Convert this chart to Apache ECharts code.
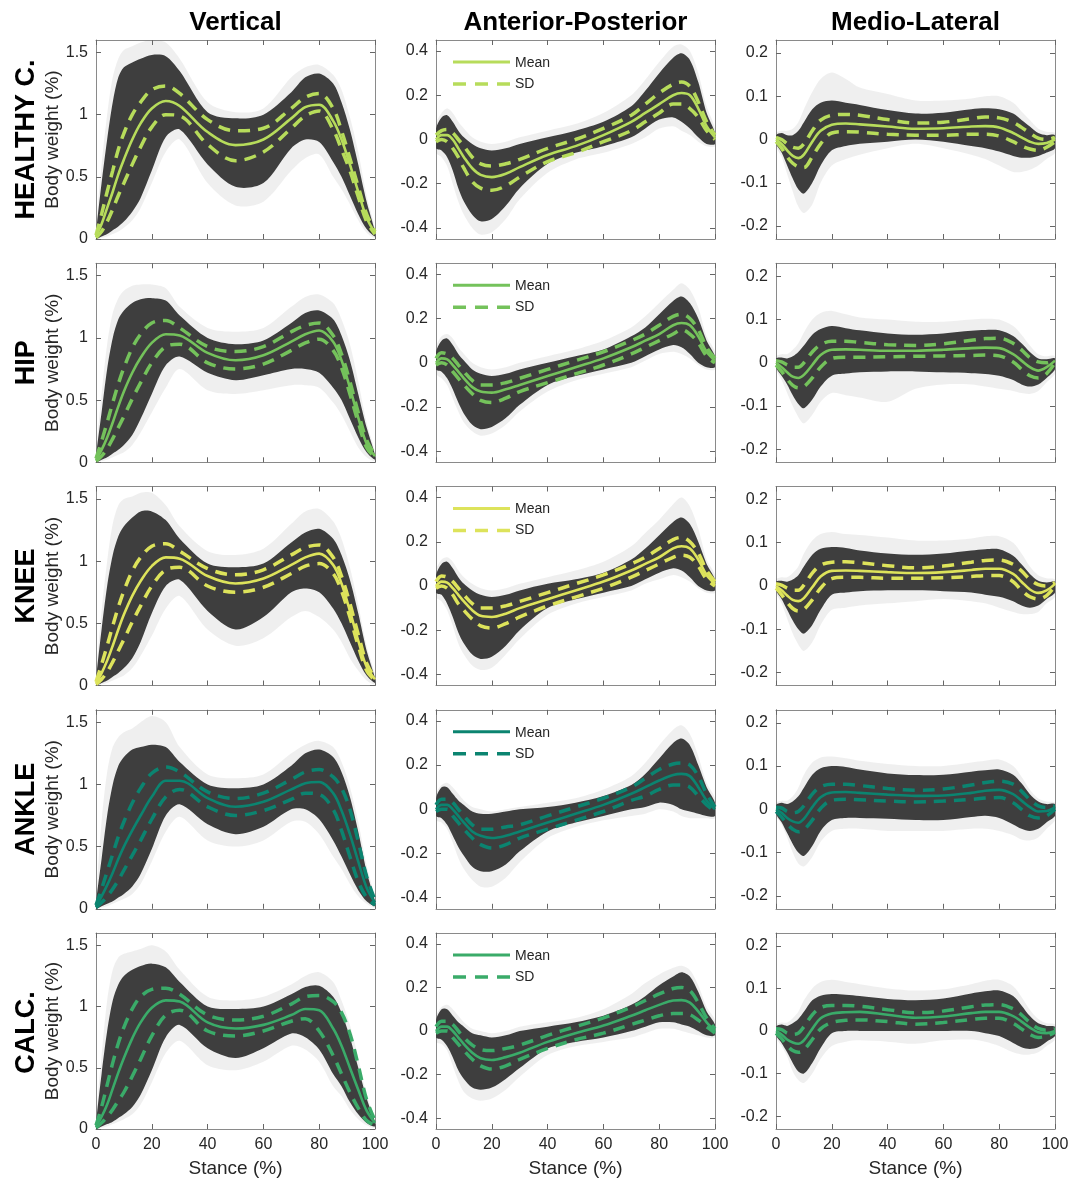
<!DOCTYPE html>
<html><head><meta charset="utf-8">
<script src="https://cdn.jsdelivr.net/npm/echarts@6/dist/echarts.min.js"></script>
<style>html,body{margin:0;padding:0;background:#fff}#c{width:1072px;height:1179px}</style>
</head><body><div id="c"></div>
<script>
// ---------- DATA ----------
const STANCE = [0,2,4,6,8,10,13,16,20,25,30,40,50,60,70,75,80,85,88,91,94,97,100];
const ROW_LABELS = ['HEALTHY C.','HIP','KNEE','ANKLE','CALC.'];
const COL_TITLES = ['Vertical','Anterior-Posterior','Medio-Lateral'];
const ROW_COLORS = ['#b7dc5b','#74c25b','#dde35b','#0b8470','#3aab69'];
const V_TICKS = [0,0.5,1,1.5];
const AP_TICKS = [-0.4,-0.2,0,0.2,0.4];
const ML_TICKS = [-0.2,-0.1,0,0.1,0.2];
const X_TICKS = [0,20,40,60,80,100];

// Vertical — Healthy controls
const V_HC_MEAN  = [0.02,0.12,0.25,0.38,0.52,0.64,0.80,0.93,1.05,1.11,1.07,0.86,0.755,0.80,0.97,1.06,1.08,0.95,0.80,0.60,0.38,0.17,0.05];
const V_HC_SDHI  = [0.03,0.20,0.38,0.55,0.72,0.85,1.00,1.10,1.20,1.23,1.17,0.96,0.87,0.89,1.05,1.14,1.17,1.05,0.87,0.65,0.42,0.20,0.06];
const V_HC_SDLO  = [0.01,0.06,0.14,0.24,0.35,0.45,0.60,0.74,0.90,1.00,0.99,0.76,0.63,0.70,0.89,0.99,1.03,0.88,0.72,0.55,0.34,0.14,0.04];
const V_HC_BHI   = [0.05,0.45,0.80,1.10,1.30,1.38,1.42,1.45,1.48,1.47,1.35,1.02,0.97,1.00,1.18,1.30,1.33,1.25,1.10,0.88,0.60,0.30,0.06];
const V_HC_BLO   = [0.00,0.02,0.04,0.07,0.10,0.14,0.22,0.33,0.55,0.82,0.88,0.60,0.42,0.45,0.73,0.80,0.78,0.62,0.50,0.35,0.20,0.08,0.02];
const V_HC_HHI   = [0.08,0.60,1.00,1.30,1.45,1.52,1.55,1.58,1.60,1.58,1.45,1.10,1.02,1.05,1.30,1.38,1.40,1.32,1.20,0.98,0.70,0.35,0.08];
const V_HC_HLO   = [0.00,0.01,0.02,0.04,0.06,0.09,0.15,0.25,0.45,0.70,0.80,0.45,0.27,0.30,0.55,0.65,0.68,0.50,0.40,0.28,0.15,0.05,0.01];
// Vertical — Hip
const V_HIP_MEAN = [0.02,0.10,0.20,0.32,0.45,0.57,0.72,0.84,0.96,1.03,1.02,0.88,0.82,0.86,0.97,1.03,1.06,0.97,0.82,0.60,0.36,0.15,0.05];
const V_HIP_SDHI = [0.03,0.17,0.32,0.48,0.63,0.76,0.92,1.03,1.12,1.14,1.08,0.93,0.89,0.93,1.05,1.10,1.12,1.02,0.87,0.65,0.40,0.18,0.06];
const V_HIP_SDLO = [0.01,0.05,0.11,0.19,0.28,0.37,0.51,0.64,0.80,0.93,0.95,0.80,0.75,0.79,0.90,0.96,0.99,0.90,0.76,0.55,0.32,0.12,0.04];
const V_HIP_BHI  = [0.05,0.40,0.75,1.00,1.15,1.22,1.28,1.31,1.32,1.30,1.18,1.00,0.95,0.98,1.12,1.20,1.22,1.15,1.02,0.82,0.55,0.28,0.06];
const V_HIP_BLO  = [0.00,0.02,0.04,0.07,0.10,0.14,0.22,0.35,0.55,0.78,0.85,0.72,0.66,0.70,0.75,0.75,0.72,0.60,0.50,0.35,0.20,0.08,0.02];
const V_HIP_HHI  = [0.08,0.55,0.95,1.20,1.32,1.38,1.42,1.43,1.43,1.40,1.25,1.08,1.05,1.08,1.25,1.33,1.35,1.28,1.15,0.95,0.65,0.32,0.08];
const V_HIP_HLO  = [0.00,0.01,0.02,0.04,0.06,0.08,0.14,0.24,0.40,0.60,0.75,0.58,0.55,0.58,0.62,0.62,0.60,0.48,0.38,0.25,0.12,0.04,0.01];
// Vertical — Knee
const V_KNE_MEAN = [0.02,0.10,0.20,0.32,0.45,0.57,0.72,0.84,0.96,1.03,1.02,0.88,0.82,0.86,0.97,1.03,1.06,0.97,0.82,0.60,0.36,0.15,0.05];
const V_KNE_SDHI = [0.03,0.17,0.32,0.48,0.63,0.76,0.92,1.03,1.12,1.14,1.08,0.94,0.89,0.93,1.05,1.11,1.13,1.03,0.88,0.66,0.41,0.18,0.06];
const V_KNE_SDLO = [0.01,0.05,0.11,0.19,0.28,0.37,0.51,0.64,0.80,0.93,0.95,0.80,0.75,0.79,0.90,0.96,0.98,0.90,0.76,0.55,0.32,0.12,0.04];
const V_KNE_BHI  = [0.05,0.45,0.80,1.05,1.20,1.28,1.35,1.40,1.40,1.33,1.18,0.98,0.95,0.98,1.15,1.23,1.26,1.18,1.05,0.85,0.58,0.28,0.06];
const V_KNE_BLO  = [0.00,0.02,0.04,0.07,0.10,0.14,0.22,0.35,0.58,0.80,0.85,0.60,0.45,0.55,0.75,0.78,0.75,0.62,0.50,0.35,0.20,0.08,0.02];
const V_KNE_HHI  = [0.08,0.60,1.00,1.30,1.45,1.50,1.52,1.55,1.55,1.45,1.28,1.08,1.05,1.10,1.30,1.40,1.42,1.32,1.18,0.95,0.65,0.32,0.08];
const V_KNE_HLO  = [0.00,0.01,0.02,0.04,0.06,0.08,0.14,0.24,0.40,0.62,0.72,0.45,0.32,0.38,0.55,0.60,0.55,0.45,0.35,0.22,0.12,0.04,0.01];
// Vertical — Ankle
const V_ANK_MEAN = [0.02,0.10,0.19,0.29,0.40,0.50,0.63,0.75,0.90,1.03,1.03,0.89,0.82,0.86,0.96,1.01,1.02,0.93,0.79,0.60,0.38,0.17,0.05];
const V_ANK_SDHI = [0.03,0.16,0.30,0.44,0.58,0.70,0.85,0.97,1.09,1.14,1.10,0.94,0.886,0.93,1.04,1.10,1.12,1.06,0.97,0.80,0.54,0.26,0.07];
const V_ANK_SDLO = [0.01,0.05,0.10,0.16,0.23,0.31,0.43,0.55,0.72,0.90,0.96,0.82,0.75,0.79,0.88,0.93,0.92,0.80,0.63,0.42,0.22,0.09,0.03];
const V_ANK_BHI  = [0.05,0.40,0.75,1.00,1.15,1.22,1.28,1.30,1.32,1.30,1.18,1.00,0.97,1.00,1.15,1.25,1.28,1.22,1.10,0.90,0.62,0.30,0.06];
const V_ANK_BLO  = [0.00,0.02,0.04,0.06,0.09,0.12,0.18,0.28,0.48,0.75,0.84,0.68,0.60,0.66,0.80,0.80,0.72,0.55,0.42,0.28,0.15,0.06,0.02];
const V_ANK_HHI  = [0.08,0.70,1.10,1.30,1.38,1.42,1.45,1.50,1.55,1.50,1.30,1.08,1.05,1.08,1.25,1.32,1.35,1.30,1.18,0.98,0.70,0.35,0.08];
const V_ANK_HLO  = [0.00,0.01,0.02,0.04,0.06,0.08,0.12,0.20,0.38,0.62,0.74,0.55,0.50,0.55,0.70,0.70,0.60,0.42,0.32,0.20,0.10,0.04,0.01];
// Vertical — Calcaneus
const V_CAL_MEAN = [0.02,0.10,0.20,0.33,0.46,0.58,0.74,0.87,0.99,1.05,1.04,0.87,0.82,0.85,0.93,0.98,0.97,0.82,0.68,0.50,0.32,0.15,0.05];
const V_CAL_SDHI = [0.03,0.18,0.36,0.54,0.70,0.83,0.98,1.08,1.14,1.15,1.10,0.93,0.89,0.92,1.02,1.08,1.09,1.04,0.95,0.78,0.52,0.24,0.07];
const V_CAL_SDLO = [0.01,0.05,0.10,0.16,0.23,0.30,0.43,0.57,0.76,0.93,0.97,0.80,0.76,0.80,0.88,0.90,0.80,0.60,0.45,0.30,0.17,0.07,0.03];
const V_CAL_BHI  = [0.05,0.45,0.80,1.05,1.18,1.25,1.30,1.33,1.35,1.32,1.20,1.00,0.98,1.00,1.10,1.16,1.17,1.08,0.95,0.75,0.50,0.25,0.06];
const V_CAL_BLO  = [0.00,0.02,0.04,0.06,0.09,0.12,0.18,0.28,0.48,0.75,0.85,0.66,0.58,0.66,0.78,0.75,0.65,0.45,0.35,0.22,0.12,0.05,0.02];
const V_CAL_HHI  = [0.08,0.60,1.05,1.30,1.40,1.43,1.45,1.47,1.50,1.45,1.30,1.08,1.05,1.08,1.18,1.25,1.28,1.20,1.05,0.85,0.58,0.28,0.08];
const V_CAL_HLO  = [0.00,0.01,0.02,0.04,0.06,0.08,0.12,0.20,0.38,0.62,0.72,0.52,0.48,0.55,0.68,0.65,0.55,0.35,0.27,0.16,0.08,0.03,0.01];

// Anterior-Posterior — Healthy controls
const AP_HC_MEAN  = [0,0.02,0.02,0,-0.04,-0.08,-0.13,-0.16,-0.17,-0.155,-0.125,-0.07,-0.03,0.02,0.08,0.12,0.16,0.20,0.21,0.20,0.14,0.06,0.01];
const AP_HC_SDHI  = [0.02,0.04,0.045,0.03,0,-0.03,-0.08,-0.11,-0.12,-0.11,-0.09,-0.04,0,0.05,0.11,0.16,0.21,0.25,0.26,0.24,0.17,0.08,0.02];
const AP_HC_SDLO  = [-0.01,0,-0.01,-0.04,-0.08,-0.13,-0.19,-0.22,-0.23,-0.21,-0.17,-0.10,-0.06,-0.01,0.04,0.08,0.12,0.16,0.16,0.14,0.10,0.04,0];
const AP_HC_BHI   = [0.05,0.10,0.11,0.08,0.04,0.01,-0.02,-0.04,-0.05,-0.04,-0.02,0.01,0.04,0.08,0.15,0.22,0.30,0.37,0.39,0.36,0.26,0.12,0.03];
const AP_HC_BLO   = [-0.04,-0.05,-0.08,-0.14,-0.22,-0.28,-0.34,-0.37,-0.36,-0.30,-0.22,-0.11,-0.06,-0.03,0.01,0.05,0.09,0.10,0.08,0.05,0.01,-0.02,-0.02];
const AP_HC_HHI   = [0.07,0.12,0.14,0.12,0.08,0.05,0.01,-0.01,-0.02,-0.01,0.01,0.04,0.07,0.12,0.20,0.27,0.35,0.42,0.43,0.40,0.30,0.15,0.05];
const AP_HC_HLO   = [-0.06,-0.08,-0.12,-0.20,-0.28,-0.34,-0.40,-0.43,-0.42,-0.36,-0.27,-0.15,-0.09,-0.06,-0.02,0.01,0.05,0.06,0.04,0.02,-0.01,-0.03,-0.03];
// AP — Hip
const AP_HIP_MEAN = [0,0.02,0.015,-0.01,-0.04,-0.07,-0.11,-0.13,-0.135,-0.12,-0.10,-0.06,-0.02,0.02,0.07,0.10,0.13,0.17,0.18,0.17,0.12,0.05,0.01];
const AP_HIP_SDHI = [0.02,0.045,0.04,0.02,-0.01,-0.04,-0.08,-0.10,-0.10,-0.09,-0.07,-0.03,0.01,0.05,0.10,0.13,0.17,0.21,0.22,0.20,0.15,0.07,0.02];
const AP_HIP_SDLO = [-0.01,0,-0.01,-0.04,-0.07,-0.10,-0.14,-0.17,-0.18,-0.16,-0.13,-0.09,-0.05,-0.01,0.04,0.07,0.10,0.13,0.15,0.13,0.09,0.03,0];
const AP_HIP_BHI  = [0.05,0.10,0.11,0.08,0.04,0.01,-0.03,-0.05,-0.06,-0.05,-0.03,0,0.03,0.06,0.12,0.16,0.22,0.28,0.30,0.27,0.20,0.10,0.03];
const AP_HIP_BLO  = [-0.03,-0.04,-0.07,-0.12,-0.18,-0.23,-0.28,-0.30,-0.29,-0.25,-0.19,-0.10,-0.06,-0.03,0,0.03,0.06,0.08,0.07,0.04,0,-0.02,-0.02];
const AP_HIP_HHI  = [0.07,0.12,0.13,0.11,0.07,0.04,0,-0.02,-0.03,-0.02,0,0.03,0.06,0.10,0.16,0.21,0.27,0.33,0.36,0.33,0.25,0.12,0.05];
const AP_HIP_HLO  = [-0.05,-0.07,-0.10,-0.16,-0.22,-0.27,-0.31,-0.33,-0.32,-0.28,-0.22,-0.13,-0.08,-0.05,-0.02,0.01,0.04,0.05,0.04,0.02,-0.01,-0.03,-0.03];
// AP — Knee
const AP_KNE_MEAN = [0,0.02,0.015,-0.01,-0.04,-0.07,-0.11,-0.135,-0.14,-0.125,-0.10,-0.06,-0.02,0.02,0.07,0.10,0.13,0.17,0.18,0.17,0.12,0.05,0.01];
const AP_KNE_SDHI = [0.02,0.045,0.04,0.02,-0.01,-0.04,-0.08,-0.10,-0.10,-0.09,-0.07,-0.03,0.01,0.05,0.10,0.13,0.17,0.21,0.22,0.20,0.15,0.07,0.02];
const AP_KNE_SDLO = [-0.01,0,-0.01,-0.04,-0.08,-0.11,-0.15,-0.18,-0.19,-0.17,-0.14,-0.09,-0.05,-0.01,0.04,0.07,0.10,0.13,0.14,0.13,0.09,0.03,0];
const AP_KNE_BHI  = [0.05,0.10,0.11,0.08,0.04,0.01,-0.02,-0.04,-0.05,-0.04,-0.02,0.01,0.03,0.06,0.12,0.17,0.23,0.29,0.31,0.28,0.20,0.10,0.03];
const AP_KNE_BLO  = [-0.03,-0.04,-0.08,-0.14,-0.21,-0.26,-0.31,-0.33,-0.32,-0.27,-0.20,-0.10,-0.06,-0.03,0,0.03,0.06,0.08,0.07,0.04,0,-0.02,-0.02];
const AP_KNE_HHI  = [0.07,0.12,0.13,0.11,0.07,0.04,0.01,-0.01,-0.02,-0.01,0.01,0.04,0.07,0.11,0.18,0.24,0.30,0.37,0.40,0.36,0.26,0.12,0.05];
const AP_KNE_HLO  = [-0.05,-0.07,-0.11,-0.18,-0.26,-0.31,-0.36,-0.38,-0.37,-0.31,-0.24,-0.13,-0.08,-0.05,-0.02,0.01,0.03,0.05,0.04,0.02,-0.01,-0.03,-0.03];
// AP — Ankle
const AP_ANK_MEAN = [0,0.02,0.02,0,-0.03,-0.06,-0.10,-0.12,-0.13,-0.12,-0.10,-0.06,-0.02,0.02,0.07,0.10,0.13,0.155,0.16,0.15,0.10,0.04,0];
const AP_ANK_SDHI = [0.02,0.045,0.045,0.03,0,-0.03,-0.07,-0.09,-0.09,-0.08,-0.07,-0.03,0.01,0.05,0.10,0.14,0.18,0.205,0.21,0.20,0.15,0.07,0.01];
const AP_ANK_SDLO = [-0.01,0,0,-0.03,-0.06,-0.09,-0.13,-0.16,-0.175,-0.16,-0.13,-0.09,-0.05,-0.01,0.04,0.06,0.09,0.11,0.11,0.10,0.06,0.02,-0.01];
const AP_ANK_BHI  = [0.05,0.10,0.10,0.07,0.04,0.02,-0.01,-0.02,-0.02,-0.01,0,0.01,0.03,0.06,0.11,0.16,0.23,0.30,0.32,0.29,0.20,0.10,0.03];
const AP_ANK_BLO  = [-0.03,-0.04,-0.07,-0.12,-0.17,-0.21,-0.26,-0.28,-0.28,-0.25,-0.19,-0.10,-0.06,-0.03,0,0.01,0.03,0.02,0,-0.01,-0.02,-0.03,-0.03];
const AP_ANK_HHI  = [0.07,0.11,0.12,0.10,0.07,0.04,0.01,0,-0.01,0,0.01,0.03,0.05,0.09,0.15,0.21,0.29,0.36,0.38,0.34,0.24,0.12,0.05];
const AP_ANK_HLO  = [-0.05,-0.06,-0.09,-0.15,-0.22,-0.27,-0.32,-0.35,-0.35,-0.31,-0.24,-0.13,-0.08,-0.05,-0.03,-0.02,0,-0.01,-0.03,-0.04,-0.04,-0.04,-0.04];
// AP — Calcaneus
const AP_CAL_MEAN = [0,0.02,0.02,0,-0.03,-0.06,-0.10,-0.125,-0.133,-0.12,-0.10,-0.05,-0.01,0.025,0.07,0.095,0.12,0.14,0.142,0.13,0.09,0.04,0];
const AP_CAL_SDHI = [0.02,0.045,0.045,0.03,0,-0.03,-0.065,-0.085,-0.09,-0.08,-0.065,-0.02,0.02,0.06,0.11,0.14,0.17,0.195,0.20,0.185,0.13,0.06,0.01];
const AP_CAL_SDLO = [-0.01,0,0,-0.03,-0.06,-0.09,-0.13,-0.16,-0.175,-0.16,-0.13,-0.08,-0.04,-0.01,0.03,0.05,0.07,0.08,0.08,0.075,0.05,0.02,-0.01];
const AP_CAL_BHI  = [0.05,0.10,0.10,0.07,0.04,0.02,-0.01,-0.02,-0.03,-0.02,0,0.02,0.04,0.07,0.12,0.16,0.21,0.25,0.27,0.25,0.18,0.09,0.03];
const AP_CAL_BLO  = [-0.03,-0.04,-0.07,-0.12,-0.18,-0.22,-0.26,-0.27,-0.26,-0.22,-0.17,-0.08,-0.05,-0.03,0,0.02,0.04,0.04,0.03,0.02,0,-0.02,-0.02];
const AP_CAL_HHI  = [0.07,0.11,0.12,0.10,0.07,0.04,0.01,0,-0.01,0,0.02,0.04,0.06,0.10,0.17,0.22,0.26,0.29,0.30,0.28,0.21,0.11,0.05];
const AP_CAL_HLO  = [-0.05,-0.06,-0.09,-0.16,-0.23,-0.28,-0.31,-0.32,-0.31,-0.27,-0.21,-0.11,-0.07,-0.05,-0.03,-0.01,0.01,0.01,0,-0.01,-0.02,-0.03,-0.03];

// Medio-Lateral — Healthy controls
const ML_HC_MEAN  = [0,-0.01,-0.025,-0.038,-0.043,-0.035,-0.005,0.02,0.034,0.037,0.035,0.03,0.025,0.026,0.03,0.031,0.028,0.015,0.005,-0.005,-0.01,-0.008,0];
const ML_HC_SDHI  = [0.005,0,-0.01,-0.018,-0.02,-0.01,0.02,0.045,0.056,0.058,0.056,0.046,0.038,0.04,0.048,0.052,0.05,0.04,0.028,0.015,0.003,0,0.005];
const ML_HC_SDLO  = [-0.005,-0.02,-0.04,-0.055,-0.063,-0.065,-0.04,-0.01,0.015,0.018,0.017,0.012,0.01,0.01,0.012,0.012,0.008,-0.005,-0.015,-0.022,-0.025,-0.018,-0.005];
const ML_HC_BHI   = [0.01,0.015,0.01,0.01,0.02,0.04,0.07,0.085,0.09,0.085,0.08,0.068,0.06,0.062,0.07,0.072,0.07,0.06,0.045,0.03,0.015,0.01,0.01];
const ML_HC_BLO   = [-0.01,-0.03,-0.06,-0.09,-0.115,-0.125,-0.10,-0.06,-0.025,-0.015,-0.01,-0.005,0,-0.005,-0.015,-0.02,-0.028,-0.038,-0.042,-0.042,-0.038,-0.03,-0.02];
const ML_HC_HHI   = [0.015,0.02,0.02,0.025,0.04,0.07,0.11,0.14,0.155,0.14,0.12,0.105,0.09,0.09,0.095,0.10,0.10,0.085,0.065,0.045,0.025,0.018,0.015];
const ML_HC_HLO   = [-0.015,-0.04,-0.08,-0.12,-0.155,-0.17,-0.15,-0.10,-0.06,-0.045,-0.035,-0.02,-0.01,-0.02,-0.035,-0.045,-0.06,-0.075,-0.075,-0.07,-0.06,-0.045,-0.03];
// ML — Hip
const ML_HIP_MEAN = [0,-0.01,-0.022,-0.032,-0.035,-0.028,-0.005,0.018,0.03,0.031,0.03,0.028,0.028,0.03,0.034,0.035,0.034,0.02,0.005,-0.01,-0.018,-0.01,0.005];
const ML_HIP_SDHI = [0.005,0.002,-0.005,-0.01,-0.01,0,0.025,0.042,0.05,0.05,0.047,0.042,0.04,0.044,0.052,0.056,0.057,0.045,0.03,0.012,0.002,0,0.008];
const ML_HIP_SDLO = [-0.005,-0.02,-0.038,-0.052,-0.058,-0.055,-0.035,-0.01,0.01,0.013,0.013,0.014,0.015,0.016,0.017,0.018,0.016,0.002,-0.015,-0.03,-0.035,-0.025,0];
const ML_HIP_BHI  = [0.01,0.012,0.01,0.015,0.025,0.04,0.065,0.078,0.085,0.08,0.075,0.068,0.065,0.068,0.074,0.076,0.075,0.062,0.045,0.025,0.01,0.008,0.01];
const ML_HIP_BLO  = [-0.01,-0.03,-0.05,-0.075,-0.095,-0.105,-0.085,-0.055,-0.03,-0.025,-0.022,-0.02,-0.02,-0.022,-0.024,-0.026,-0.03,-0.04,-0.05,-0.055,-0.05,-0.035,-0.015];
const ML_HIP_HHI  = [0.015,0.02,0.02,0.03,0.045,0.07,0.10,0.115,0.12,0.112,0.105,0.10,0.095,0.095,0.10,0.102,0.10,0.085,0.065,0.04,0.02,0.015,0.015];
const ML_HIP_HLO  = [-0.015,-0.04,-0.07,-0.10,-0.125,-0.14,-0.12,-0.09,-0.07,-0.075,-0.08,-0.09,-0.06,-0.05,-0.05,-0.055,-0.06,-0.065,-0.07,-0.072,-0.065,-0.045,-0.025];
// ML — Knee
const ML_KNE_MEAN = [0,-0.01,-0.022,-0.032,-0.035,-0.028,-0.003,0.022,0.035,0.036,0.035,0.032,0.03,0.032,0.037,0.04,0.04,0.028,0.01,-0.008,-0.016,-0.01,0.005];
const ML_KNE_SDHI = [0.005,0.002,-0.005,-0.01,-0.01,0.002,0.03,0.048,0.055,0.056,0.054,0.047,0.042,0.046,0.055,0.059,0.06,0.05,0.035,0.015,0.003,0,0.008];
const ML_KNE_SDLO = [-0.005,-0.02,-0.038,-0.052,-0.058,-0.054,-0.032,-0.005,0.017,0.02,0.02,0.018,0.018,0.019,0.022,0.024,0.024,0.01,-0.01,-0.025,-0.03,-0.022,0];
const ML_KNE_BHI  = [0.01,0.012,0.01,0.015,0.025,0.045,0.072,0.086,0.09,0.088,0.082,0.075,0.072,0.075,0.082,0.085,0.085,0.07,0.05,0.028,0.012,0.008,0.01];
const ML_KNE_BLO  = [-0.01,-0.03,-0.055,-0.08,-0.10,-0.11,-0.09,-0.055,-0.02,-0.015,-0.012,-0.01,-0.01,-0.012,-0.015,-0.02,-0.025,-0.035,-0.045,-0.05,-0.045,-0.03,-0.015];
const ML_KNE_HHI  = [0.015,0.02,0.02,0.03,0.045,0.075,0.105,0.12,0.125,0.12,0.118,0.112,0.105,0.105,0.11,0.115,0.115,0.10,0.075,0.045,0.025,0.018,0.015];
const ML_KNE_HLO  = [-0.015,-0.04,-0.075,-0.11,-0.135,-0.15,-0.13,-0.09,-0.055,-0.05,-0.045,-0.04,-0.035,-0.03,-0.035,-0.04,-0.05,-0.06,-0.065,-0.065,-0.06,-0.04,-0.025];
// ML — Ankle
const ML_ANK_MEAN = [0,-0.008,-0.02,-0.028,-0.031,-0.022,0.005,0.028,0.039,0.04,0.038,0.034,0.031,0.032,0.038,0.043,0.045,0.035,0.02,0.005,-0.005,-0.004,0.005];
const ML_ANK_SDHI = [0.005,0.003,-0.005,-0.008,-0.005,0.008,0.035,0.052,0.058,0.058,0.055,0.048,0.044,0.047,0.056,0.062,0.065,0.058,0.042,0.022,0.008,0.004,0.008];
const ML_ANK_SDLO = [-0.005,-0.018,-0.034,-0.046,-0.052,-0.047,-0.025,0.002,0.021,0.023,0.022,0.019,0.017,0.019,0.023,0.026,0.027,0.015,0,-0.015,-0.02,-0.015,0];
const ML_ANK_BHI  = [0.01,0.015,0.012,0.018,0.03,0.05,0.08,0.095,0.10,0.098,0.092,0.083,0.079,0.08,0.087,0.09,0.092,0.08,0.06,0.035,0.018,0.012,0.012];
const ML_ANK_BLO  = [-0.01,-0.03,-0.055,-0.08,-0.10,-0.108,-0.085,-0.05,-0.025,-0.02,-0.02,-0.022,-0.025,-0.025,-0.018,-0.015,-0.02,-0.035,-0.045,-0.05,-0.045,-0.03,-0.015];
const ML_ANK_HHI  = [0.015,0.02,0.02,0.03,0.05,0.08,0.108,0.12,0.122,0.118,0.112,0.105,0.10,0.10,0.108,0.112,0.115,0.10,0.075,0.045,0.025,0.018,0.015];
const ML_ANK_HLO  = [-0.015,-0.035,-0.065,-0.10,-0.125,-0.132,-0.11,-0.075,-0.05,-0.045,-0.045,-0.05,-0.05,-0.05,-0.045,-0.045,-0.05,-0.06,-0.07,-0.072,-0.065,-0.045,-0.025];
// ML — Calcaneus
const ML_CAL_MEAN = [0,-0.008,-0.02,-0.027,-0.03,-0.022,0.005,0.03,0.041,0.044,0.045,0.038,0.031,0.034,0.042,0.045,0.045,0.035,0.022,0.008,-0.003,-0.005,0];
const ML_CAL_SDHI = [0.005,0.003,-0.005,-0.008,-0.005,0.01,0.038,0.055,0.06,0.06,0.058,0.05,0.043,0.047,0.057,0.061,0.062,0.052,0.038,0.02,0.006,0.002,0.005];
const ML_CAL_SDLO = [-0.005,-0.018,-0.034,-0.046,-0.05,-0.044,-0.02,0.005,0.02,0.025,0.026,0.022,0.016,0.02,0.027,0.03,0.03,0.018,0.005,-0.008,-0.015,-0.012,-0.003];
const ML_CAL_BHI  = [0.01,0.015,0.012,0.018,0.028,0.045,0.072,0.083,0.087,0.085,0.082,0.075,0.072,0.076,0.088,0.093,0.095,0.082,0.06,0.035,0.018,0.012,0.01];
const ML_CAL_BLO  = [-0.01,-0.028,-0.05,-0.075,-0.095,-0.10,-0.075,-0.04,-0.005,0,0,0,0,0,0,-0.005,-0.012,-0.028,-0.038,-0.042,-0.038,-0.025,-0.012];
const ML_CAL_HHI  = [0.015,0.02,0.02,0.03,0.045,0.072,0.10,0.115,0.12,0.115,0.11,0.10,0.095,0.098,0.11,0.118,0.12,0.105,0.08,0.05,0.028,0.018,0.015];
const ML_CAL_HLO  = [-0.015,-0.035,-0.06,-0.095,-0.115,-0.122,-0.10,-0.065,-0.035,-0.025,-0.022,-0.025,-0.03,-0.022,-0.02,-0.025,-0.035,-0.05,-0.055,-0.055,-0.05,-0.035,-0.02];

// ---------- PANEL TABLE (built from the arrays) ----------
const P = (mean,sdHi,sdLo,bHi,bLo,hHi,hLo)=>({mean,sdHi,sdLo,bHi,bLo,hHi,hLo});
const PANELS = [
  [P(V_HC_MEAN,V_HC_SDHI,V_HC_SDLO,V_HC_BHI,V_HC_BLO,V_HC_HHI,V_HC_HLO),
   P(AP_HC_MEAN,AP_HC_SDHI,AP_HC_SDLO,AP_HC_BHI,AP_HC_BLO,AP_HC_HHI,AP_HC_HLO),
   P(ML_HC_MEAN,ML_HC_SDHI,ML_HC_SDLO,ML_HC_BHI,ML_HC_BLO,ML_HC_HHI,ML_HC_HLO)],
  [P(V_HIP_MEAN,V_HIP_SDHI,V_HIP_SDLO,V_HIP_BHI,V_HIP_BLO,V_HIP_HHI,V_HIP_HLO),
   P(AP_HIP_MEAN,AP_HIP_SDHI,AP_HIP_SDLO,AP_HIP_BHI,AP_HIP_BLO,AP_HIP_HHI,AP_HIP_HLO),
   P(ML_HIP_MEAN,ML_HIP_SDHI,ML_HIP_SDLO,ML_HIP_BHI,ML_HIP_BLO,ML_HIP_HHI,ML_HIP_HLO)],
  [P(V_KNE_MEAN,V_KNE_SDHI,V_KNE_SDLO,V_KNE_BHI,V_KNE_BLO,V_KNE_HHI,V_KNE_HLO),
   P(AP_KNE_MEAN,AP_KNE_SDHI,AP_KNE_SDLO,AP_KNE_BHI,AP_KNE_BLO,AP_KNE_HHI,AP_KNE_HLO),
   P(ML_KNE_MEAN,ML_KNE_SDHI,ML_KNE_SDLO,ML_KNE_BHI,ML_KNE_BLO,ML_KNE_HHI,ML_KNE_HLO)],
  [P(V_ANK_MEAN,V_ANK_SDHI,V_ANK_SDLO,V_ANK_BHI,V_ANK_BLO,V_ANK_HHI,V_ANK_HLO),
   P(AP_ANK_MEAN,AP_ANK_SDHI,AP_ANK_SDLO,AP_ANK_BHI,AP_ANK_BLO,AP_ANK_HHI,AP_ANK_HLO),
   P(ML_ANK_MEAN,ML_ANK_SDHI,ML_ANK_SDLO,ML_ANK_BHI,ML_ANK_BLO,ML_ANK_HHI,ML_ANK_HLO)],
  [P(V_CAL_MEAN,V_CAL_SDHI,V_CAL_SDLO,V_CAL_BHI,V_CAL_BLO,V_CAL_HHI,V_CAL_HLO),
   P(AP_CAL_MEAN,AP_CAL_SDHI,AP_CAL_SDLO,AP_CAL_BHI,AP_CAL_BLO,AP_CAL_HHI,AP_CAL_HLO),
   P(ML_CAL_MEAN,ML_CAL_SDHI,ML_CAL_SDLO,ML_CAL_BHI,ML_CAL_BLO,ML_CAL_HHI,ML_CAL_HLO)]
];

// ---------- LAYOUT / STYLE ----------
const FONT = 'Liberation Sans, Arial, Helvetica, sans-serif';
const TXT = '#262626';
const BOX = '#8a8a8a';
const GRID_LEFT = [96, 436, 776];
const GRID_TOP = [40, 263.3, 486.5, 709.8, 933];
const GRID_W = 279, GRID_H = 199;
const Y_RANGE = [[0,1.6],[-0.45,0.45],[-0.23,0.23]];
const Y_TICKS = [V_TICKS, AP_TICKS, ML_TICKS];

const grids=[], xAxes=[], yAxes=[], series=[], graphics=[];
const pts = a => STANCE.map((x,i)=>[x,a[i]]);
const SM = 0.35;

// band between two envelopes, drawn as one polygon through the axis scales
function bandSeries(gi, hi, lo, fill, z) {
  return {
    type:'custom', xAxisIndex:gi*2, yAxisIndex:gi*2, silent:true, clip:true, z:z, animation:false,
    data: STANCE.map((x,i)=>[x, lo[i], hi[i]]),
    encode:{x:0, y:[1,2]},
    renderItem:(params, api) => {
      if (params.dataIndex !== 0) return null;
      const top=[], bot=[];
      for (let i=0;i<STANCE.length;i++){
        top.push(api.coord([STANCE[i], hi[i]]));
        bot.push(api.coord([STANCE[i], lo[i]]));
      }
      return {type:'polygon', shape:{points: top.concat(bot.reverse()), smooth:0.3}, style:{fill:fill}};
    }
  };
}

PANELS.forEach((row, r) => {
  row.forEach((d, c) => {
    const gi = grids.length;
    const color = ROW_COLORS[r];
    const bottomRow = r === PANELS.length-1;
    grids.push({left:GRID_LEFT[c], top:GRID_TOP[r], width:GRID_W, height:GRID_H, containLabel:false});
    const tickStyle = {show:true, inside:true, length:5, lineStyle:{color:'#666', width:1}};
    const lineStyle = {show:true, onZero:false, lineStyle:{color:BOX, width:1}};
    xAxes.push({gridIndex:gi, type:'value', min:0, max:100, interval:20, position:'bottom',
      axisLine:lineStyle, axisTick:tickStyle, splitLine:{show:false},
      axisLabel:{show:bottomRow, color:TXT, fontSize:16, fontFamily:FONT, margin:8, customValues:X_TICKS},
      name: bottomRow ? 'Stance (%)' : '', nameLocation:'middle', nameGap:30,
      nameTextStyle:{color:TXT, fontSize:19, fontFamily:FONT}});
    xAxes.push({gridIndex:gi, type:'value', min:0, max:100, interval:20, position:'top',
      axisLine:lineStyle, axisTick:tickStyle, splitLine:{show:false}, axisLabel:{show:false}});
    const yr = Y_RANGE[c];
    yAxes.push({gridIndex:gi, type:'value', min:yr[0], max:yr[1], position:'left',
      axisLine:lineStyle, axisTick:Object.assign({customValues:Y_TICKS[c]}, tickStyle), splitLine:{show:false},
      axisLabel:{color:TXT, fontSize:16, fontFamily:FONT, margin:8, customValues:Y_TICKS[c]},
      name: c===0 ? 'Body weight (%)' : '', nameLocation:'middle', nameGap:34, nameRotate:90,
      nameTextStyle:{color:TXT, fontSize:19, fontFamily:FONT}});
    yAxes.push({gridIndex:gi, type:'value', min:yr[0], max:yr[1], position:'right',
      axisLine:lineStyle, axisTick:Object.assign({customValues:Y_TICKS[c]}, tickStyle), splitLine:{show:false}, axisLabel:{show:false}});
    const ax = {xAxisIndex:gi*2, yAxisIndex:gi*2, symbol:'none', silent:true, animation:false, smooth:SM, type:'line', z:5};
    series.push(bandSeries(gi, d.hHi, d.hLo, 'rgba(110,110,110,0.11)', 1));
    series.push(bandSeries(gi, d.bHi, d.bLo, '#3e3e3e', 2));
    series.push(Object.assign({}, ax, {data:pts(d.sdHi), lineStyle:{color:color, width:3.5, type:[12,8]}}));
    series.push(Object.assign({}, ax, {data:pts(d.sdLo), lineStyle:{color:color, width:3.5, type:[12,8]}}));
    series.push(Object.assign({}, ax, {data:pts(d.mean), lineStyle:{color:color, width:2.6}}));
    if (c === 1) {
      const t = GRID_TOP[r];
      graphics.push({type:'line', shape:{x1:453,y1:t+22,x2:510,y2:t+22}, style:{stroke:color, lineWidth:3}, z:100});
      graphics.push({type:'line', shape:{x1:453,y1:t+44,x2:510,y2:t+44}, style:{stroke:color, lineWidth:3.5, lineDash:[13,9]}, z:100});
      graphics.push({type:'text', x:515, y:t+23, style:{text:'Mean', fill:TXT, font:'14px '+FONT, textVerticalAlign:'middle'}, z:100});
      graphics.push({type:'text', x:515, y:t+44, style:{text:'SD', fill:TXT, font:'14px '+FONT, textVerticalAlign:'middle'}, z:100});
    }
  });
  graphics.push({type:'text', x:27, y:GRID_TOP[r]+GRID_H/2, rotation:Math.PI/2,
    style:{text:ROW_LABELS[r], fill:'#000', font:'bold 27px '+FONT, textAlign:'center', textVerticalAlign:'middle'}});
});
COL_TITLES.forEach((t,c)=>{
  graphics.push({type:'text', x:GRID_LEFT[c]+GRID_W/2, y:23,
    style:{text:t, fill:'#000', font:'bold 26px '+FONT, textAlign:'center', textVerticalAlign:'middle'}});
});

const chart = echarts.init(document.getElementById('c'), null, {renderer:'canvas'});
chart.setOption({animation:false, backgroundColor:'#fff', grid:grids, xAxis:xAxes, yAxis:yAxes, series:series, graphic:graphics});
</script>
</body></html>
